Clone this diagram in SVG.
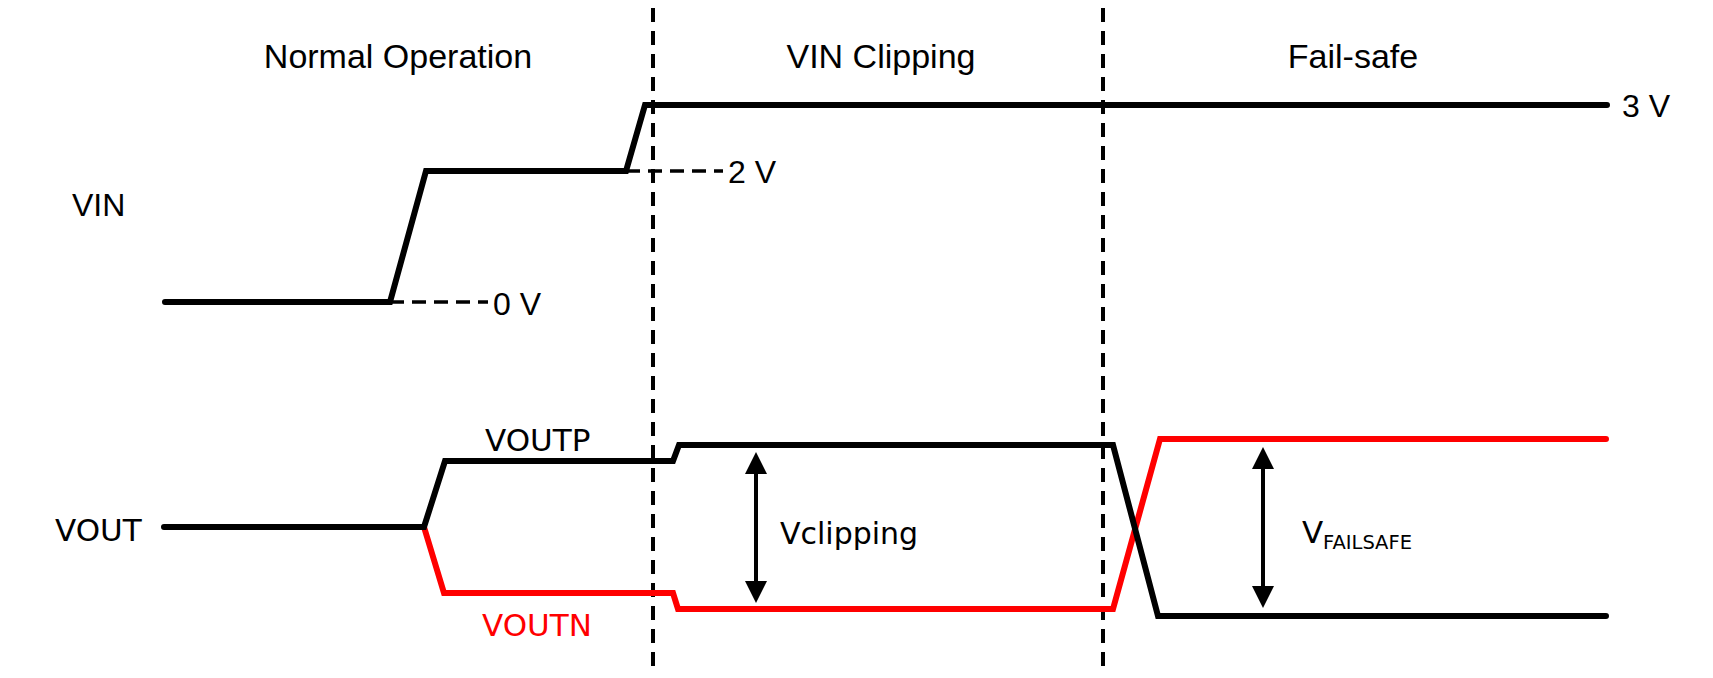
<svg xmlns="http://www.w3.org/2000/svg" width="1713" height="678" viewBox="0 0 1713 678">
  <style>
    .wave { fill: none; stroke-width: 6; stroke-linecap: round; stroke-linejoin: miter; }
    .blk { stroke: #000000; }
    .red { stroke: #FF0000; }
    .vdash { fill: none; stroke: #000000; stroke-width: 4; stroke-dasharray: 14 9; }
    .hdash { fill: none; stroke: #000000; stroke-width: 3.5; stroke-dasharray: 14 8; }
    .shaft { stroke: #000000; stroke-width: 4; }
    .head { fill: #000000; }
    .title { font-family: "Liberation Sans", Arial, sans-serif; font-size: 34px; fill: #000000; text-anchor: middle; }
    .lbl { font-family: "Liberation Sans", Arial, sans-serif; font-size: 32px; fill: #000000; }
    .sig { font-family: "DejaVu Sans", Verdana, sans-serif; font-size: 31px; fill: #000000; }
    .sigred { font-family: "DejaVu Sans", Verdana, sans-serif; font-size: 31px; fill: #FF0000; }
    .clip { font-family: "DejaVu Sans", Verdana, sans-serif; font-size: 30px; fill: #000000; }
    .sub { font-family: "DejaVu Sans", Verdana, sans-serif; font-size: 19.5px; fill: #000000; }
  </style>
  <rect x="0" y="0" width="1713" height="678" fill="#FFFFFF"/>

  <g id="titles">
    <text class="title" x="398" y="68">Normal Operation</text>
    <text class="title" x="881" y="68">VIN Clipping</text>
    <text class="title" x="1353" y="68">Fail-safe</text>
  </g>

  <g id="phase-dividers">
    <line class="vdash" x1="653" y1="8" x2="653" y2="668"/>
    <line class="vdash" x1="1103" y1="8" x2="1103" y2="668"/>
  </g>

  <g id="vin">
    <text class="lbl" x="72" y="216">VIN</text>
    <path class="wave blk" d="M165,302 L390,302 L426,171 L626,171 L645,105 L1607,105"/>
    <line class="hdash" x1="390" y1="302" x2="488" y2="302"/>
    <line class="hdash" x1="626" y1="171" x2="723" y2="171"/>
    <text class="lbl" x="493" y="315">0 V</text>
    <text class="lbl" x="728" y="183">2 V</text>
    <text class="lbl" x="1622" y="117">3 V</text>
  </g>

  <g id="vout">
    <text class="sig" x="55" y="541">VOUT</text>
    <path class="wave red" d="M424,527 L444,593 L673,593 L678,609 L1113,609 L1160,439 L1606,439"/>
    <path class="wave blk" d="M164,527 L424,527 L445,461 L673,461 L679,445 L1113,445 L1158,616 L1606,616"/>
    <text class="sig" x="485" y="451">VOUTP</text>
    <text class="sigred" x="482" y="636">VOUTN</text>
  </g>

  <g id="vclipping">
    <line class="shaft" x1="756" y1="470" x2="756" y2="585"/>
    <polygon class="head" points="756,452 745,474 767,474"/>
    <polygon class="head" points="756,603 745,581 767,581"/>
    <text class="clip" x="780" y="544">Vclipping</text>
  </g>

  <g id="vfailsafe">
    <line class="shaft" x1="1263" y1="465" x2="1263" y2="590"/>
    <polygon class="head" points="1263,447 1252,469 1274,469"/>
    <polygon class="head" points="1263,608 1252,586 1274,586"/>
    <text class="sig" x="1302" y="543">V<tspan class="sub" x="1323" y="549">FAILSAFE</tspan></text>
  </g>
</svg>
